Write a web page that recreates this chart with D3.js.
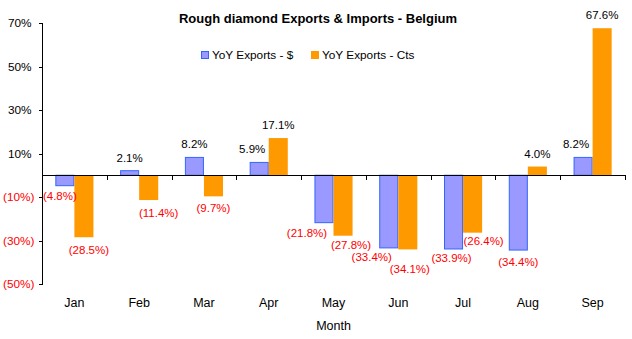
<!DOCTYPE html>
<html>
<head>
<meta charset="utf-8">
<script src="https://cdn.jsdelivr.net/npm/d3@7"></script>
<style>
  body { margin: 0; background: #fff; }
  svg { display: block; font-family: Arial, "Liberation Sans", sans-serif; }
  .axis path, .axis line { stroke: #000; shape-rendering: crispEdges; }
</style>
</head>
<body>
<div id="chart"></div>
<script>
// DATA
const months = ['Jan', 'Feb', 'Mar', 'Apr', 'May', 'Jun', 'Jul', 'Aug', 'Sep'];
const exportsUsd = [-4.8, 2.1, 8.2, 5.9, -21.8, -33.4, -33.9, -34.4, 8.2];
const exportsCts = [-28.5, -11.4, -9.7, 17.1, -27.8, -34.1, -26.4, 4.0, 67.6];
const yTicks = [70, 50, 30, 10, -10, -30, -50];
const seriesNames = ['YoY Exports - $', 'YoY Exports - Cts'];

// label nudges (px), keyed month-seriesIndex, to keep labels from colliding
const labelNudge = {
  'Jan-0': [-5, -2], 'Jan-1': [5, 1], 'Feb-1': [10, 1], 'Apr-0': [-7, 0],
  'May-0': [-17, -2], 'May-1': [8, -3], 'Jun-0': [-17, -3], 'Jun-1': [2, 8],
  'Jul-0': [-2, -3], 'Jul-1': [11, -4], 'Sep-0': [-7, 0]
};

const W = 632, H = 339;
const plotL = 42, plotR = 625, plotT = 23, plotB = 284;
const colors = ['#9999FF', '#FF9900'];
const strokes = ['#3366FF', 'none'];

const svg = d3.select('#chart').append('svg').attr('width', W).attr('height', H);

const y = d3.scaleLinear().domain([-50, 70]).range([plotB, plotT]);
const x0 = d3.scaleBand().domain(months).range([plotL, plotR]).padding(0);
const x1 = d3.scaleBand().domain([0, 1]).range([0, x0.bandwidth()])
  .paddingInner(0).paddingOuter(0.7);

// title
svg.append('text')
  .attr('x', 318).attr('y', 23)
  .attr('text-anchor', 'middle')
  .style('font-weight', 'bold').style('font-size', '13px')
  .text('Rough diamond Exports & Imports - Belgium');

// legend
const legend = svg.append('g');
const legendX = [201, 311];
seriesNames.forEach(function(name, i) {
  legend.append('rect')
    .attr('x', legendX[i] + 0.5).attr('y', 51.5)
    .attr('width', 7).attr('height', 7)
    .attr('fill', colors[i])
    .attr('stroke', strokes[i] === 'none' ? colors[i] : strokes[i]);
  legend.append('text')
    .attr('x', legendX[i] + 11).attr('y', 55).attr('dy', '0.35em')
    .style('font-size', '11.8px')
    .text(name);
});

// y axis
const yAxis = svg.append('g').attr('class', 'axis')
  .attr('transform', 'translate(' + (plotL + 0.5) + ',0)')
  .call(d3.axisLeft(y).tickValues(yTicks).tickSize(4).tickSizeOuter(0)
    .tickFormat(d => d < 0 ? '(' + Math.abs(d) + '%)' : d + '%'));
yAxis.select('.domain').attr('d', 'M0,' + plotT + 'V' + plotB);
yAxis.selectAll('text')
  .style('font-size', '11.8px')
  .style('font-family', 'Arial, "Liberation Sans", sans-serif')
  .attr('fill', d => d < 0 ? '#FF0000' : '#000')
  .attr('x', d => d < 0 ? -8 : -11);

// bars
const groups = svg.append('g').selectAll('g')
  .data(months)
  .join('g')
  .attr('transform', d => 'translate(' + x0(d) + ',0)');

const barData = (m, i) => [exportsUsd[i], exportsCts[i]].map((v, s) => ({ month: m, s: s, v: v }));

groups.selectAll('rect')
  .data((m, i) => barData(m, i))
  .join('rect')
  .attr('x', d => x1(d.s) + (d.s === 0 ? 0.5 : 0))
  .attr('width', d => x1.bandwidth() - (d.s === 0 ? 1 : 0))
  .attr('y', d => d.v >= 0 ? y(d.v) : y(0))
  .attr('height', d => Math.abs(y(d.v) - y(0)))
  .attr('fill', d => colors[d.s])
  .attr('stroke', d => strokes[d.s])
  .attr('stroke-width', 1);

// x axis on the zero line
const xAxisG = svg.append('g').attr('class', 'axis')
  .attr('transform', 'translate(0,' + (Math.round(y(0)) + 0.5) + ')');
xAxisG.append('line').attr('x1', plotL).attr('x2', plotR + 1);
xAxisG.selectAll('.tick')
  .data(months.map(m => x0(m) + x0.bandwidth()))
  .join('line')
  .attr('x1', d => Math.round(d) + 0.5).attr('x2', d => Math.round(d) + 0.5)
  .attr('y1', 0).attr('y2', 4);

// month labels sit at the bottom of the plot
svg.append('g').selectAll('text')
  .data(months)
  .join('text')
  .attr('x', d => x0(d) + x0.bandwidth() / 2)
  .attr('y', 303).attr('dy', '0.35em')
  .attr('text-anchor', 'middle')
  .style('font-size', '12.5px')
  .text(d => d);

svg.append('text')
  .attr('x', (plotL + plotR) / 2).attr('y', 326).attr('dy', '0.35em')
  .attr('text-anchor', 'middle')
  .style('font-size', '12.5px')
  .text('Month');

// data labels
const fmt = v => v < 0 ? '(' + Math.abs(v).toFixed(1) + '%)' : v.toFixed(1) + '%';
groups.selectAll('text')
  .data((m, i) => barData(m, i))
  .join('text')
  .attr('text-anchor', 'middle')
  .attr('dy', '0.35em')
  .attr('x', d => x1(d.s) + x1.bandwidth() / 2 + (labelNudge[d.month + '-' + d.s] || [0, 0])[0])
  .attr('y', d => (d.v >= 0 ? y(d.v) - 13 : y(d.v) + 12) + (labelNudge[d.month + '-' + d.s] || [0, 0])[1])
  .attr('fill', d => d.v < 0 ? '#FF0000' : '#000')
  .style('font-size', '11.5px')
  .text(d => fmt(d.v));
</script>
</body>
</html>
